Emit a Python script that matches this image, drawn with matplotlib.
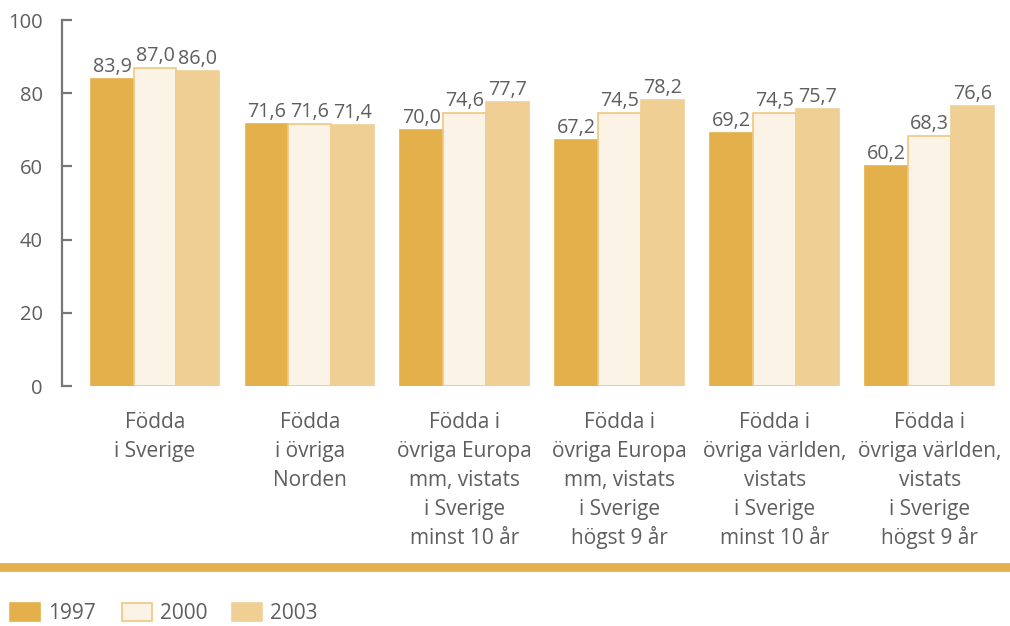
import matplotlib
matplotlib.use("Agg")
import matplotlib.pyplot as plt
from matplotlib.patches import Rectangle
import numpy as np

plt.rcParams['font.family'] = ['Open Sans', 'DejaVu Sans']

# Data
categories = [
    "Födda\ni Sverige",
    "Födda\ni övriga\nNorden",
    "Födda i\növriga Europa\nmm, vistats\ni Sverige\nminst 10 år",
    "Födda i\növriga Europa\nmm, vistats\ni Sverige\nhögst 9 år",
    "Födda i\növriga världen,\nvistats\ni Sverige\nminst 10 år",
    "Födda i\növriga världen,\nvistats\ni Sverige\nhögst 9 år",
]
years = ["1997", "2000", "2003"]
v1997 = [83.9, 71.6, 70.0, 67.2, 69.2, 60.2]
v2000 = [87.0, 71.6, 74.6, 74.5, 74.5, 68.3]
v2003 = [86.0, 71.4, 77.7, 78.2, 75.7, 76.6]
yticks = [0, 20, 40, 60, 80, 100]

face_colors = ["#E3B04B", "#FBF3E6", "#EFCF94"]
edge_colors = ["#E3B04B", "#F0C77E", "#EFCF94"]
text_color = "#5e5e5e"
W, H = 1010, 626

fig = plt.figure(figsize=(W / 100, H / 100), dpi=100)
ax = fig.add_axes([62 / W, 1 - 386 / H, (1004 - 62) / W, 366 / H])

x = np.arange(len(categories))
w = 0.277
series = [v1997, v2000, v2003]
for i, vals in enumerate(series):
    pos = x + (i - 1) * w
    ax.bar(pos, vals, width=w, color=face_colors[i], edgecolor=edge_colors[i],
           linewidth=1.2)
    for p, v in zip(pos, vals):
        ax.annotate(f"{v:.1f}".replace(".", ","), xy=(p, v), xytext=(0, 5),
                    textcoords="offset points", ha="center", va="baseline",
                    fontsize=14.2, color=text_color)

ax.set_xlim(-0.6, 5.48)
ax.set_ylim(0, 100)
ax.set_yticks(yticks)
ax.set_yticklabels([str(t) for t in yticks], fontsize=14.5, color=text_color)
ax.tick_params(axis="y", direction="in", length=7, width=1.6, color="#777777", pad=14)
ax.set_xticks([])
for s in ["top", "right", "bottom"]:
    ax.spines[s].set_visible(False)
ax.spines["left"].set_color("#777777")
ax.spines["left"].set_linewidth(1.6)

# category labels below the groups, one line at a time for even spacing
for xi, lab in zip(x, categories):
    for k, line in enumerate(lab.split("\n")):
        ax.annotate(line, xy=(xi, 0), xycoords=ax.get_xaxis_transform(),
                    xytext=(0, -(42 + 29 * k) * 0.72), textcoords="offset points",
                    ha="center", va="baseline", fontsize=15, color=text_color,
                    annotation_clip=False)

# orange separator line
fig.add_artist(plt.Line2D([0, 1], [1 - 567 / H] * 2, transform=fig.transFigure,
                          color="#E3B04B", linewidth=6.3))

# legend
leg_x = [10, 122, 232]
for lx, yr, fc, ec in zip(leg_x, years, face_colors, edge_colors):
    fig.add_artist(Rectangle((lx / W, 1 - 621 / H), 30 / W, 18 / H,
                             transform=fig.transFigure, facecolor=fc,
                             edgecolor=ec, linewidth=1.2))
    fig.text((lx + 38) / W, 1 - 619 / H, yr, ha="left", va="baseline",
             fontsize=15, color=text_color)

fig.savefig("out.png", dpi=100)
